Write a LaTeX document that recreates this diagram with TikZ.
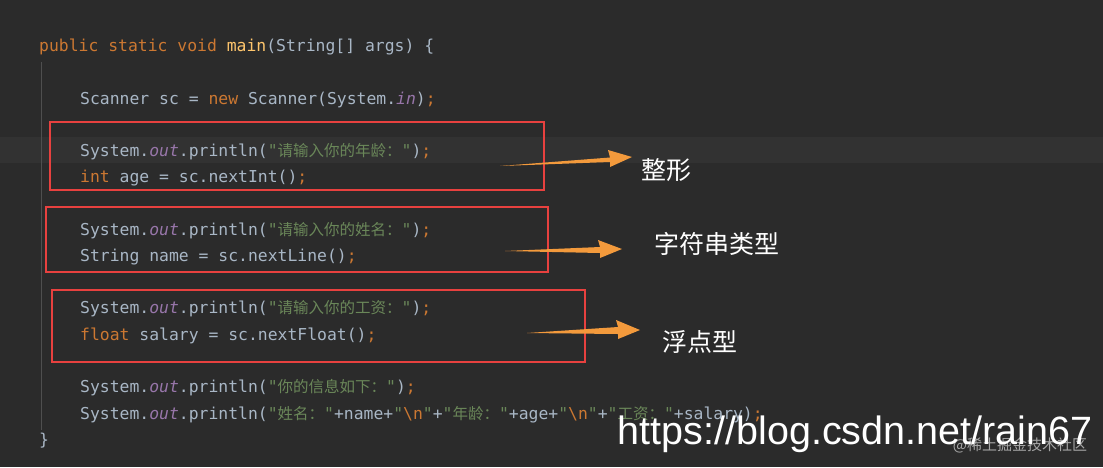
\documentclass[tikz,border=0pt]{standalone}
\usepackage{fontspec}
\setmonofont{DejaVu Sans Mono}
\setsansfont{Liberation Sans}
\newfontfamily\cjk{Noto Sans CJK SC}
\definecolor{bg}{HTML}{2B2B2B}
\definecolor{cl}{HTML}{323232}
\definecolor{kw}{HTML}{CC7832}
\definecolor{tx}{HTML}{A9B7C6}
\definecolor{fld}{HTML}{9876AA}
\definecolor{str}{HTML}{6A8759}
\definecolor{mth}{HTML}{FFC66D}
\definecolor{rbox}{HTML}{E8413F}
\definecolor{arr}{HTML}{F39A3C}
\newcommand{\K}[1]{\textcolor{kw}{#1}}
\newcommand{\F}[1]{\textcolor{fld}{\itshape #1}}
\newcommand{\Sx}[1]{\textcolor{str}{#1}}
\newcommand{\C}[1]{{\cjk\fontsize{15.5}{15}\selectfont #1}}
\tikzset{
 code/.style={anchor=base west,inner sep=0,text=tx,font=\ttfamily\fontsize{16.4}{16}\selectfont},
 redbox/.style={draw=rbox,line width=2pt},
 lab/.style={anchor=center,text=white,font=\cjk\fontsize{25}{25}\selectfont},
 arrowshape/.style={fill=arr,draw=none}
}
\begin{document}
\begin{tikzpicture}[x=1pt,y=-1pt]
\fill[bg] (0,0) rectangle (1103,467);
\useasboundingbox (0,0) rectangle (1103,467);
\fill[cl] (0,137) rectangle (1103,163);
\draw[color=black!20!bg!80!white,line width=0.8pt] (41,62) -- (41,430);
\node[code] (l1) at (39,51) {\K{public static void} \textcolor{mth}{main}(String[] args) \{};
\node[code] (l2) at (80,104) {Scanner sc = \K{new} Scanner(System.\F{in})\K{;}};
\node[code] (l3) at (80,156) {System.\F{out}.println(\Sx{"\C{请输入你的年龄：}"})\K{;}};
\node[code] (l4) at (80,182) {\K{int} age = sc.nextInt()\K{;}};
\node[code] (l5) at (80,235) {System.\F{out}.println(\Sx{"\C{请输入你的姓名：}"})\K{;}};
\node[code] (l6) at (80,261) {String name = sc.nextLine()\K{;}};
\node[code] (l7) at (80,313) {System.\F{out}.println(\Sx{"\C{请输入你的工资：}"})\K{;}};
\node[code] (l8) at (80,340) {\K{float} salary = sc.nextFloat()\K{;}};
\node[code] (l9) at (80,392) {System.\F{out}.println(\Sx{"\C{你的信息如下：}"})\K{;}};
\node[code] (l10) at (80,419) {System.\F{out}.println(\Sx{"\C{姓名：}"}+name+\Sx{"}\K{\textbackslash n}\Sx{"}+\Sx{"\C{年龄：}"}+age+\Sx{"}\K{\textbackslash n}\Sx{"}+\Sx{"\C{工资：}"}+salary)\K{;}};
\node[code] (l11) at (39,445) {\}};
\draw[redbox] (50,122) rectangle (544,190);
\draw[redbox] (46,207) rectangle (548,272);
\draw[redbox] (52,290) rectangle (585,362);
\fill[arrowshape] (500,166) -- (610,157.5) -- (608,150) -- (632,157) -- (610,167) -- (610,162) -- cycle;
\fill[arrowshape] (505,251) -- (600,247) -- (598,240) -- (622,249) -- (600,258) -- (600,253) -- cycle;
\fill[arrowshape] (527,333) -- (618,327) -- (616,320) -- (640,330) -- (618,339) -- (618,334) -- cycle;
\node[lab] (t1) at (666,170) {整形};
\node[lab] (t2) at (717,244) {字符串类型};
\node[lab] (t3) at (700,342) {浮点型};
\node[anchor=center,text=gray!70,font=\cjk\fontsize{15}{15}\selectfont] (wm) at (1020,445) {@稀土掘金技术社区};
\node[anchor=center,text=white,font=\sffamily\fontsize{39.5}{39}\selectfont] (url) at (855,434) {https://blog.csdn.net/rain67};
\end{tikzpicture}
\end{document}
